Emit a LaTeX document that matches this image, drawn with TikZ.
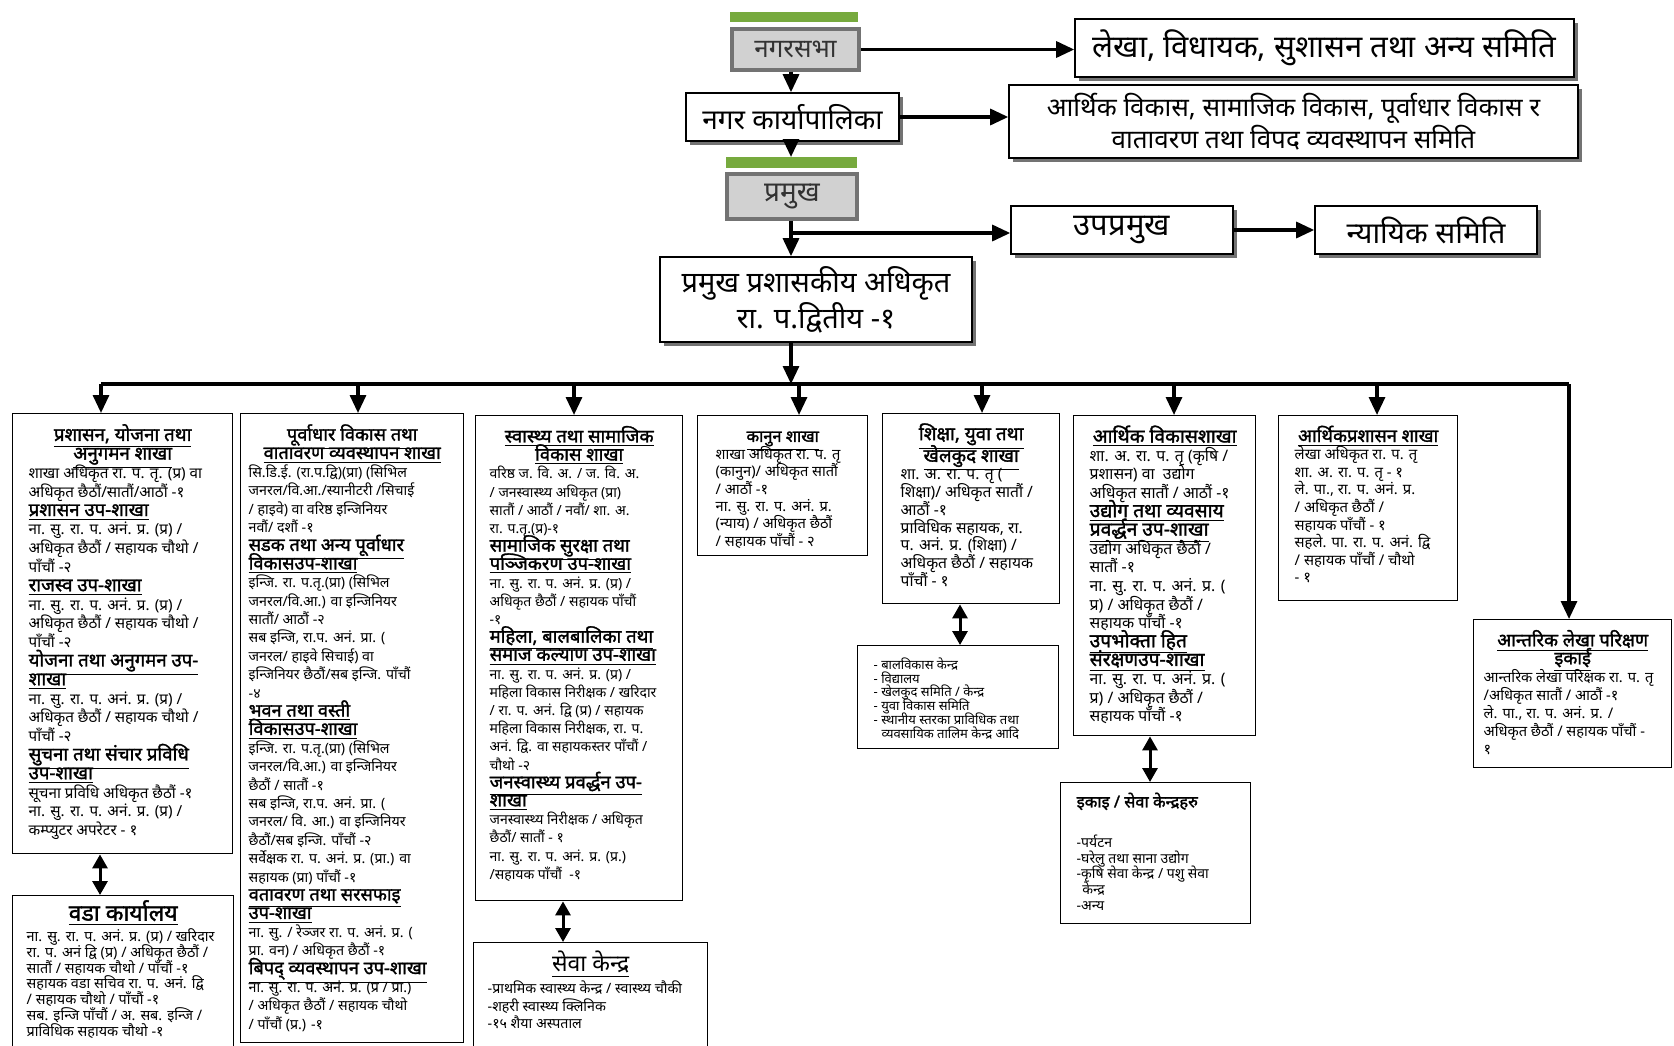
\documentclass[tikz,border=0pt]{standalone}
\usepackage{fontspec}
\setmainfont[Script=Devanagari]{Noto Sans}
\newfontfamily\hdfont[Script=Devanagari,FakeBold=1.6]{Noto Sans}
\usetikzlibrary{arrows.meta,shadows}
\definecolor{gbar}{RGB}{119,170,62}
\def\hdsize{9}
\newcommand\sz[3]{\fontsize{#1}{#2}\selectfont\def\hdsize{#3}}
\newcommand\hd[1]{\strut\smash{\underline{\hdfont\fontsize{\hdsize}{\hdsize}\selectfont #1}}}
\newcommand\hdr[1]{\strut\smash{\underline{\fontsize{\hdsize}{\hdsize}\selectfont #1}}}
\newcommand\hdc[1]{{\centering #1\par}}
% [xpad]{name}{x1}{y1}{x2}{y2}{content}
\newcommand\branchbox[7][8pt]{%
  \node[bbox, inner xsep=#1, inner ysep=7pt, anchor=north west] (#2) at (#3,#4)
  {\parbox[t][\dimexpr(#6pt-#4pt)/2-14pt\relax][t]{\dimexpr(#5pt-#3pt)/2-#1-#1\relax}{\raggedright\lineskiplimit=-\maxdimen\lineskip=0pt #7}};}
\tikzset{
  arr/.style={line width=1.6pt,-{Triangle[length=9pt,width=8pt]}},
  darr/.style={line width=1.5pt,{Triangle[length=7pt,width=7.5pt]}-{Triangle[length=7pt,width=7.5pt]}},
  bbox/.style={draw=black, line width=0.7pt, fill=white},
  topbox/.style={draw=black, line width=0.8pt, fill=white, inner sep=0pt,
     drop shadow={shadow xshift=2.2pt,shadow yshift=-2.2pt,fill=black!55,opacity=1},
     align=center, font=\fontsize{15}{15}\selectfont},
  greybox/.style={draw=black!55, line width=1.6pt, fill=black!18, inner sep=0pt,
     font=\fontsize{13}{13}\selectfont, text=black!80},
  gbarst/.style={fill=gbar, draw=none, inner sep=0pt, anchor=north west},
}
\begin{document}
\begin{tikzpicture}[x=0.5pt,y=-0.5pt]
\fill[white] (0,0) rectangle (1674,1045);
\useasboundingbox (0,0) rectangle (1674,1045);
\coordinate (sp) at (791,0);

% ---------- top part ----------
\node[gbarst, minimum width=64pt, minimum height=5pt] (sabhabar) at (730,12) {};
\node[greybox, minimum width=63.5pt, minimum height=20.5pt] (sabha) at (795.5,49.5) {नगरसभा};
\node[topbox, minimum width=249.5pt, minimum height=29pt, font=\fontsize{15.5}{15}\selectfont] (lekha) at (1324.5,48)
  {लेखा, विधायक, सुशासन तथा अन्य समिति};
\node[topbox, minimum width=106.5pt, minimum height=24pt, font=\fontsize{14}{15}\selectfont] (karya) at (792.5,117)
  {नगर कार्यापालिका};
\node[topbox, minimum width=284.5pt, minimum height=36.5pt, font=\fontsize{13}{15}\selectfont] (samiti) at (1293.5,121.5)
  {आर्थिक विकास, सामाजिक विकास, पूर्वाधार विकास र\\वातावरण तथा विपद व्यवस्थापन समिति};
\node[gbarst, minimum width=65.5pt, minimum height=5.5pt] (pramukhbar) at (726,157) {};
\node[greybox, minimum width=65pt, minimum height=22.5pt, font=\fontsize{14}{14}\selectfont] (pramukh) at (792,196.5) {प्रमुख};
\node[topbox, minimum width=111pt, minimum height=24pt, font=\fontsize{15.5}{15}\selectfont] (upa) at (1122,230) {उपप्रमुख};
\node[topbox, minimum width=111pt, minimum height=24pt, font=\fontsize{14.8}{15}\selectfont] (nyayik) at (1426,230) {न्यायिक समिति};
\node[topbox, minimum width=156pt, minimum height=42.5pt, font=\fontsize{14.5}{15.5}\selectfont] (cao) at (816,299.5)
  {प्रमुख प्रशासकीय अधिकृत\\रा. प.द्वितीय -१};

\draw[arr] (sabha.east) -- (sabha.east -| lekha.west);
\draw[arr] (sabha.south -| sp) -- (karya.north -| sp);
\draw[arr] (karya.east) -- (karya.east -| samiti.west);
\draw[arr] (karya.south -| sp) -- (pramukhbar.north -| sp);
\draw[arr] (pramukh.south -| sp) -- (cao.north -| sp);
\coordinate (j1) at (791,233);
\draw[arr] (j1) -- (j1 -| upa.west);
\draw[arr] (upa.east) -- (nyayik.west);

% ---------- bar ----------
\coordinate (bj) at (791,384);
\coordinate (c1) at (101,384);
\coordinate (c2) at (358,384);
\coordinate (c3) at (574,384);
\coordinate (c4) at (799,384);
\coordinate (c5) at (982,384);
\coordinate (c6) at (1174,384);
\coordinate (c7) at (1377,384);
\coordinate (c8) at (1569,384);
\draw[arr] (cao.south -| sp) -- (bj);

% ---------- branch boxes ----------
\branchbox[8pt]{b1}{12}{413}{232}{853}{\sz{7.6}{9.4}{9.3}%
\hdc{\hd{प्रशासन, योजना तथा}\\\hd{अनुगमन शाखा}}
शाखा अधिकृत रा. प. तृ. (प्र) वा\\
अधिकृत छैठौं/सातौं/आठौं -१\\
\hd{प्रशासन उप-शाखा}\\
ना. सु. रा. प. अनं. प्र. (प्र) /\\
अधिकृत छैठौं / सहायक चौथो /\\
पाँचौं -२\\
\hd{राजस्व उप-शाखा}\\
ना. सु. रा. प. अनं. प्र. (प्र) /\\
अधिकृत छैठौं / सहायक चौथो /\\
पाँचौं -२\\
\hd{योजना तथा अनुगमन उप-}\\
\hd{शाखा}\\
ना. सु. रा. प. अनं. प्र. (प्र) /\\
अधिकृत छैठौं / सहायक चौथो /\\
पाँचौं -२\\
\hd{सुचना तथा संचार प्रविधि}\\
\hd{उप-शाखा}\\
सूचना प्रविधि अधिकृत छैठौं -१\\
ना. सु. रा. प. अनं. प्र. (प्र) /\\
कम्प्युटर अपरेटर - १}

\branchbox[7pt]{ward}{12}{895}{233}{1052}{\sz{7.2}{7.9}{11.5}%
\hdc{\hd{वडा कार्यालय}}
\vspace{2.5pt}
ना. सु. रा. प. अनं. प्र. (प्र) / खरिदार\\
रा. प. अनं द्वि (प्र) / अधिकृत छैठौं /\\
सातौं / सहायक चौथो / पाँचौं -१\\
सहायक वडा सचिव रा. प. अनं. द्वि\\
/ सहायक चौथो / पाँचौं -१\\
सब. इन्जि पाँचौं / अ. सब. इन्जि /\\
प्राविधिक सहायक चौथो -१}

\branchbox[4pt]{b2}{240}{413}{463}{1042}{\sz{7.1}{9.2}{9.1}%
\hdc{\hd{पूर्वाधार विकास तथा}\\\hd{वातावरण व्यवस्थापन शाखा}}
सि.डि.ई. (रा.प.द्वि)(प्रा) (सिभिल\\
जनरल/वि.आ./स्यानीटरी /सिचाई\\
/ हाइवे) वा वरिष्ठ इन्जिनियर\\
नवौं/ दशौं -१\\
\hd{सडक तथा अन्य पूर्वाधार}\\
\hd{विकासउप-शाखा}\\
इन्जि. रा. प.तृ.(प्रा) (सिभिल\\
जनरल/वि.आ.) वा इन्जिनियर\\
सातौं/ आठौं -२\\
सब इन्जि, रा.प. अनं. प्रा. (\\
जनरल/ हाइवे सिचाई) वा\\
इन्जिनियर छैठौं/सब इन्जि. पाँचौं\\
-४\\
\hd{भवन तथा वस्ती}\\
\hd{विकासउप-शाखा}\\
इन्जि. रा. प.तृ.(प्रा) (सिभिल\\
जनरल/वि.आ.) वा इन्जिनियर\\
छैठौं / सातौं -१\\
सब इन्जि, रा.प. अनं. प्रा. (\\
जनरल/ वि. आ.) वा इन्जिनियर\\
छैठौं/सब इन्जि. पाँचौं -२\\
सर्वेक्षक रा. प. अनं. प्र. (प्रा.) वा\\
सहायक (प्रा) पाँचौं -१\\
\hd{वतावरण तथा सरसफाइ}\\
\hd{उप-शाखा}\\
ना. सु. / रेञ्जर रा. प. अनं. प्र. (\\
प्रा. वन) / अधिकृत छैठौं -१\\
\hd{बिपद् व्यवस्थापन उप-शाखा}\\
ना. सु. रा. प. अनं. प्र. (प्र / प्रा.)\\
/ अधिकृत छैठौं / सहायक चौथो\\
/ पाँचौं (प्र.) -१}

\branchbox[7pt]{b3}{475}{415}{682}{900}{\sz{7.0}{9.1}{9.2}%
\hdc{\hd{स्वास्थ्य तथा सामाजिक}\\\hd{विकास शाखा}}
वरिष्ठ ज. वि. अ. / ज. वि. अ.\\
/ जनस्वास्थ्य अधिकृत (प्रा)\\
सातौं / आठौं / नवौं/ शा. अ.\\
रा. प.तृ.(प्र)-१\\
\hd{सामाजिक सुरक्षा तथा}\\
\hd{पञ्जिकरण उप-शाखा}\\
ना. सु. रा. प. अनं. प्र. (प्र) /\\
अधिकृत छैठौं / सहायक पाँचौं\\
-१\\
\hd{महिला, बालबालिका तथा}\\
\hd{समाज कल्याण उप-शाखा}\\
ना. सु. रा. प. अनं. प्र. (प्र) /\\
महिला विकास निरीक्षक / खरिदार\\
/ रा. प. अनं. द्वि (प्र) / सहायक\\
महिला विकास निरीक्षक, रा. प.\\
अनं. द्वि. वा सहायकस्तर पाँचौं /\\
चौथो -२\\
\hd{जनस्वास्थ्य प्रवर्द्धन उप-}\\
\hd{शाखा}\\
जनस्वास्थ्य निरीक्षक / अधिकृत\\
छैठौं/ सातौं - १\\
ना. सु. रा. प. अनं. प्र. (प्र.)\\
/सहायक पाँचौं \ -१}

\branchbox[7pt]{seva}{473}{942}{707}{1052}{\sz{7.1}{8.6}{11.5}%
\vspace*{1.5pt}
\hdc{\hdr{सेवा केन्द्र}}
\vspace{2.5pt}
-प्राथमिक स्वास्थ्य केन्द्र / स्वास्थ्य चौकी\\
-शहरी स्वास्थ्य क्लिनिक\\
-१५ शैया अस्पताल}

\branchbox[9pt]{b4}{697}{415}{867}{555}{\sz{7.3}{8.7}{8.2}%
\hdc{\hd{कानुन शाखा}}
शाखा अधिकृत रा. प. तृ\\
(कानुन)/ अधिकृत सातौं\\
/ आठौं -१\\
ना. सु. रा. प. अनं. प्र.\\
(न्याय) / अधिकृत छैठौं\\
/ सहायक पाँचौं - २}

\branchbox[9pt]{b5}{882}{413}{1059}{603}{\sz{7.8}{8.9}{9.4}%
\hdc{\hd{शिक्षा, युवा तथा}\\[2pt]\hd{खेलकुद शाखा}}
शा. अ. रा. प. तृ (\\
शिक्षा)/ अधिकृत सातौं /\\
आठौं -१\\
प्राविधिक सहायक, रा.\\
प. अनं. प्र. (शिक्षा) /\\
अधिकृत छैठौं / सहायक\\
पाँचौं - १}

\branchbox[8pt]{l5}{857}{645}{1058}{748}{\sz{6.5}{6.9}{8}%
\vspace*{-1pt}
- बालविकास केन्द्र\\
- विद्यालय\\
- खेलकुद समिति / केन्द्र\\
- युवा विकास समिति\\
- स्थानीय स्तरका प्राविधिक तथा\\
\hspace*{0.6em}व्यवसायिक तालिम केन्द्र आदि}

\branchbox[8pt]{b6}{1073}{415}{1255}{735}{\sz{7.9}{9.3}{9.6}%
\hdc{\hd{आर्थिक विकासशाखा}}
शा. अ. रा. प. तृ (कृषि /\\
प्रशासन) वा \ उद्योग\\
अधिकृत सातौं / आठौं -१\\
\hd{उद्योग तथा व्यवसाय}\\
\hd{प्रवर्द्धन उप-शाखा}\\
उद्योग अधिकृत छैठौं /\\
सातौं -१\\
ना. सु. रा. प. अनं. प्र. (\\
प्र) / अधिकृत छैठौं /\\
सहायक पाँचौं -१\\
\hd{उपभोक्ता हित}\\
\hd{संरक्षणउप-शाखा}\\
ना. सु. रा. प. अनं. प्र. (\\
प्र) / अधिकृत छैठौं /\\
सहायक पाँचौं -१}

\branchbox[8pt]{l6}{1060}{782}{1250}{923}{\sz{7}{7.9}{8}%
\vspace*{-2pt}
\strut{\hdfont\fontsize{8.2}{10}\selectfont इकाइ / सेवा केन्द्रहरु}\par
\vspace{12pt}
-पर्यटन\\
-घरेलु तथा साना उद्योग\\
-कृषि सेवा केन्द्र / पशु सेवा\\
\hspace*{0.4em}केन्द्र\\
-अन्य}

\branchbox[8pt]{b7}{1278}{415}{1457}{600}{\sz{7.4}{8.8}{9.1}%
\hdc{\hd{आर्थिकप्रशासन शाखा}}
लेखा अधिकृत रा. प. तृ\\
शा. अ. रा. प. तृ - १\\
ले. पा., रा. प. अनं. प्र.\\
/ अधिकृत छैठौं /\\
सहायक पाँचौं - १\\
सहले. पा. रा. प. अनं. द्वि\\
/ सहायक पाँचौं / चौथो\\
- १}

\branchbox[5pt]{b8}{1473}{619}{1671}{767}{\sz{7.3}{9.0}{9.1}%
\hdc{\hd{आन्तरिक लेखा परिक्षण}\\\hd{इकाई}}
आन्तरिक लेखा परिक्षक रा. प. तृ\\
/अधिकृत सातौं / आठौं -१\\
ले. पा., रा. प. अनं. प्र. /\\
अधिकृत छैठौं / सहायक पाँचौं -\\
१}

% ---------- connectors ----------
\draw[line width=1.6pt] (c1) -- (c8);
\draw[arr] (c1) -- (b1.north -| c1);
\draw[arr] (c2) -- (b2.north -| c2);
\draw[arr] (c3) -- (b3.north -| c3);
\draw[arr] (c4) -- (b4.north -| c4);
\draw[arr] (c5) -- (b5.north -| c5);
\draw[arr] (c6) -- (b6.north -| c6);
\draw[arr] (c7) -- (b7.north -| c7);
\draw[arr] (c8) -- (b8.north -| c8);

\coordinate (d1) at (100,0);
\coordinate (d3) at (563,0);
\coordinate (d5) at (960,0);
\coordinate (d6) at (1150,0);
\draw[darr] (b1.south -| d1) -- (ward.north -| d1);
\draw[darr] (b3.south -| d3) -- (seva.north -| d3);
\draw[darr] (b5.south -| d5) -- (l5.north -| d5);
\draw[darr] (b6.south -| d6) -- (l6.north -| d6);
\end{tikzpicture}
\end{document}
